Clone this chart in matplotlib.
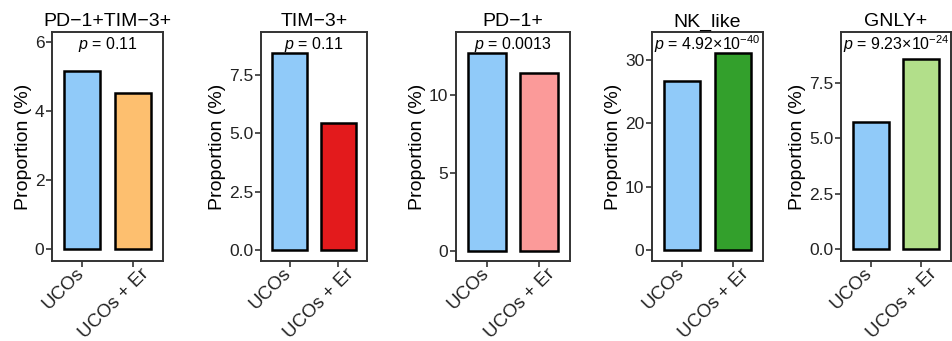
import matplotlib.pyplot as plt
from matplotlib.transforms import ScaledTranslation, blended_transform_factory

plt.rcParams['font.family'] = ['Liberation Sans', 'DejaVu Sans']
plt.rcParams['mathtext.fontset'] = 'custom'
plt.rcParams['mathtext.rm'] = 'Liberation Sans'
plt.rcParams['mathtext.it'] = 'Liberation Sans:italic'

groups = ['UCOs', 'UCOs + Er']
titles = ['PD\u22121+TIM\u22123+', 'TIM\u22123+', 'PD\u22121+', 'NK_like', 'GNLY+']
pd1_tim3 = [5.15, 4.52]
tim3 = [8.45, 5.43]
pd1 = [12.7, 11.4]
nk_like = [26.7, 31.1]
gnly = [5.73, 8.6]
pvals = [r'$p$ = 0.11', r'$p$ = 0.11', r'$p$ = 0.0013',
         r'$p$ = 4.92×10$^{-40}$', r'$p$ = 9.23×10$^{-24}$']
colors = [['#90CAF9', '#FDBF6F'], ['#90CAF9', '#E31A1C'], ['#90CAF9', '#FB9A99'],
          ['#90CAF9', '#33A02C'], ['#90CAF9', '#B2DF8A']]
yticks = [[0, 2, 4, 6], [0, 2.5, 5.0, 7.5], [0, 5, 10], [0, 10, 20, 30], [0, 2.5, 5.0, 7.5]]
ytlabels = [['0', '2', '4', '6'], ['0.0', '2.5', '5.0', '7.5'], ['0', '5', '10'],
            ['0', '10', '20', '30'], ['0.0', '2.5', '5.0', '7.5']]
ylims = [(-0.35, 6.28), (-0.47, 9.35), (-0.65, 14.06), (-1.75, 34.4), (-0.55, 9.8)]
data = [pd1_tim3, tim3, pd1, nk_like, gnly]

W, H = 953, 341
boxes = [(52, 163), (261, 367), (456, 570), (652, 763), (841, 951)]
top, bottom = 32, 261

fig = plt.figure(figsize=(W / 100, H / 100), dpi=100)
shift = ScaledTranslation(-19 / 100, -4 / 100, fig.dpi_scale_trans)

for i in range(5):
    l, r = boxes[i]
    ax = fig.add_axes([l / W, 1 - bottom / H, (r - l) / W, (bottom - top) / H])
    xs = [1, 2]
    ax.bar(xs, data[i], width=0.72, color=colors[i], edgecolor='black', linewidth=1.8)
    ax.set_xlim(0.41, 2.59)
    ax.set_ylim(*ylims[i])
    ax.set_xticks(xs)
    ax.set_xticklabels([])
    trans = blended_transform_factory(ax.transData, ax.transAxes) + shift
    for x, g in zip(xs, groups):
        ax.text(x, 0, g, transform=trans, rotation=45, ha='center', va='top',
                fontsize=13.5, color='#222222', clip_on=False)
    ax.set_yticks(yticks[i])
    ax.set_yticklabels(ytlabels[i], fontsize=12.5)
    ax.tick_params(length=4, width=1.2, color='#333333', labelcolor='#222222', pad=1.5)
    for s in ax.spines.values():
        s.set_linewidth(1.4)
        s.set_color('#333333')
    ax.set_ylabel('Proportion (%)', fontsize=14, labelpad=2)
    ax.set_title(titles[i], fontsize=14, pad=4)
    ax.text(0.5, 0.945, pvals[i], transform=ax.transAxes, ha='center', va='center', fontsize=11.5)

fig.savefig('out.png', dpi=100)
